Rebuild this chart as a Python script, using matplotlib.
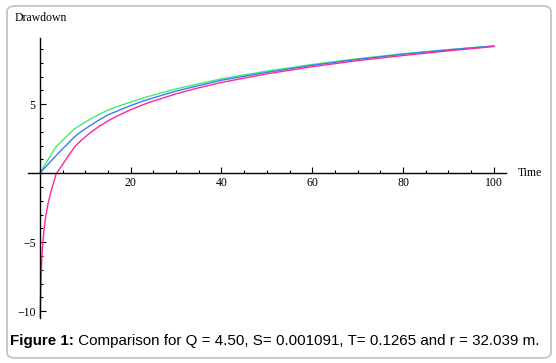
import matplotlib
matplotlib.use("Agg")
import matplotlib.pyplot as plt
from matplotlib.patches import FancyBboxPatch
from matplotlib.ticker import MultipleLocator

# values
t_green = [0, 3.6, 7.6, 9, 11, 13, 15, 17, 20, 23, 25, 30, 35, 40, 50, 60, 70, 80, 90, 100]
s_green = [0, 1.93, 3.2, 3.5, 3.9, 4.25, 4.57, 4.82, 5.15, 5.48, 5.66, 6.11, 6.48, 6.84,
           7.4, 7.88, 8.3, 8.66, 8.96, 9.22]

t_blue = [0, 3.6, 7.6, 9, 11, 13, 15, 17, 20, 23, 25, 30, 35, 40, 50, 60, 70, 80, 90, 100]
s_blue = [0, 1.28, 2.62, 2.99, 3.43, 3.85, 4.22, 4.5, 4.9, 5.26, 5.46, 5.95, 6.35, 6.74,
          7.31, 7.82, 8.25, 8.62, 8.94, 9.22]

t_magenta = [0.1, 0.15, 0.25, 0.4, 0.6, 0.9, 1.3, 1.8, 2.5, 3.6, 7.6, 9, 11, 13, 15, 17,
             20, 23, 25, 30, 35, 40, 50, 60, 70, 80, 90, 100]
s_magenta = [-10.4, -9.25, -7.8, -6.47, -5.33, -4.18, -3.14, -2.22, -1.29, -0.05,
             1.88, 2.34, 2.91, 3.38, 3.79, 4.14, 4.6, 5.0, 5.23, 5.75, 6.19, 6.58,
             7.2, 7.72, 8.16, 8.53, 8.87, 9.18]

caption_bold = "Figure 1:"
caption_rest = " Comparison for Q = 4.50, S= 0.001091, T= 0.1265 and r = 32.039 m."

W, H = 556, 363
fig = plt.figure(figsize=(W / 100, H / 100), dpi=100)

# rounded grey frame round the whole figure
frame = FancyBboxPatch((7 / W, 5 / H), 544 / W, 352 / H,
                       boxstyle="round,pad=0,rounding_size=0.015",
                       transform=fig.transFigure, facecolor="white",
                       edgecolor="#c4c4c4", linewidth=1.3, zorder=-1)
fig.patches.append(frame)

ax = fig.add_axes([28 / W, (H - 318) / H, (505.7 - 28) / W, (318 - 38) / H])
ax.patch.set_alpha(0)
ax.set_xlim(-2.6, 102.6)
ax.set_ylim(-10.5, 9.8)

ax.plot(t_green, s_green, color="#3cf06e", lw=1.0)
ax.plot(t_blue, s_blue, color="#3c78ff", lw=1.0)
ax.plot(t_magenta, s_magenta, color="#ff2896", lw=1.0)

for side in ["top", "right"]:
    ax.spines[side].set_visible(False)
ax.spines["left"].set_position(("data", 0))
ax.spines["bottom"].set_position(("data", 0))
for side in ["left", "bottom"]:
    ax.spines[side].set_linewidth(1.0)

ax.xaxis.set_major_locator(MultipleLocator(20))
ax.xaxis.set_minor_locator(MultipleLocator(5))
ax.yaxis.set_major_locator(MultipleLocator(5))
ax.yaxis.set_minor_locator(MultipleLocator(1))
ax.set_xticks([20, 40, 60, 80, 100])
ax.set_yticks([-10, -5, 5])

serif = "Liberation Serif"
ax.tick_params(which="both", direction="in", width=0.8, labelsize=8.5)
ax.tick_params(which="major", length=4, pad=3)
ax.tick_params(which="minor", length=2.5)
for lab in ax.get_xticklabels() + ax.get_yticklabels():
    lab.set_family(serif)

fig.text(15 / W, 1 - 18 / H, "Drawdown", family=serif, fontsize=8.5,
         ha="left", va="center")
fig.text(518 / W, 1 - 173 / H, "Time", family=serif, fontsize=8.5,
         ha="left", va="center")

# caption: bold lead-in followed by normal text
t1 = fig.text(10 / W, 1 - 341 / H, caption_bold, family="Liberation Sans",
              fontweight="bold", fontsize=10.9, ha="left", va="center")
fig.canvas.draw()
bb = t1.get_window_extent()
fig.text(bb.x1 / W, 1 - 341 / H, caption_rest, family="Liberation Sans",
         fontsize=10.9, ha="left", va="center")

fig.savefig("out.png", dpi=100)
